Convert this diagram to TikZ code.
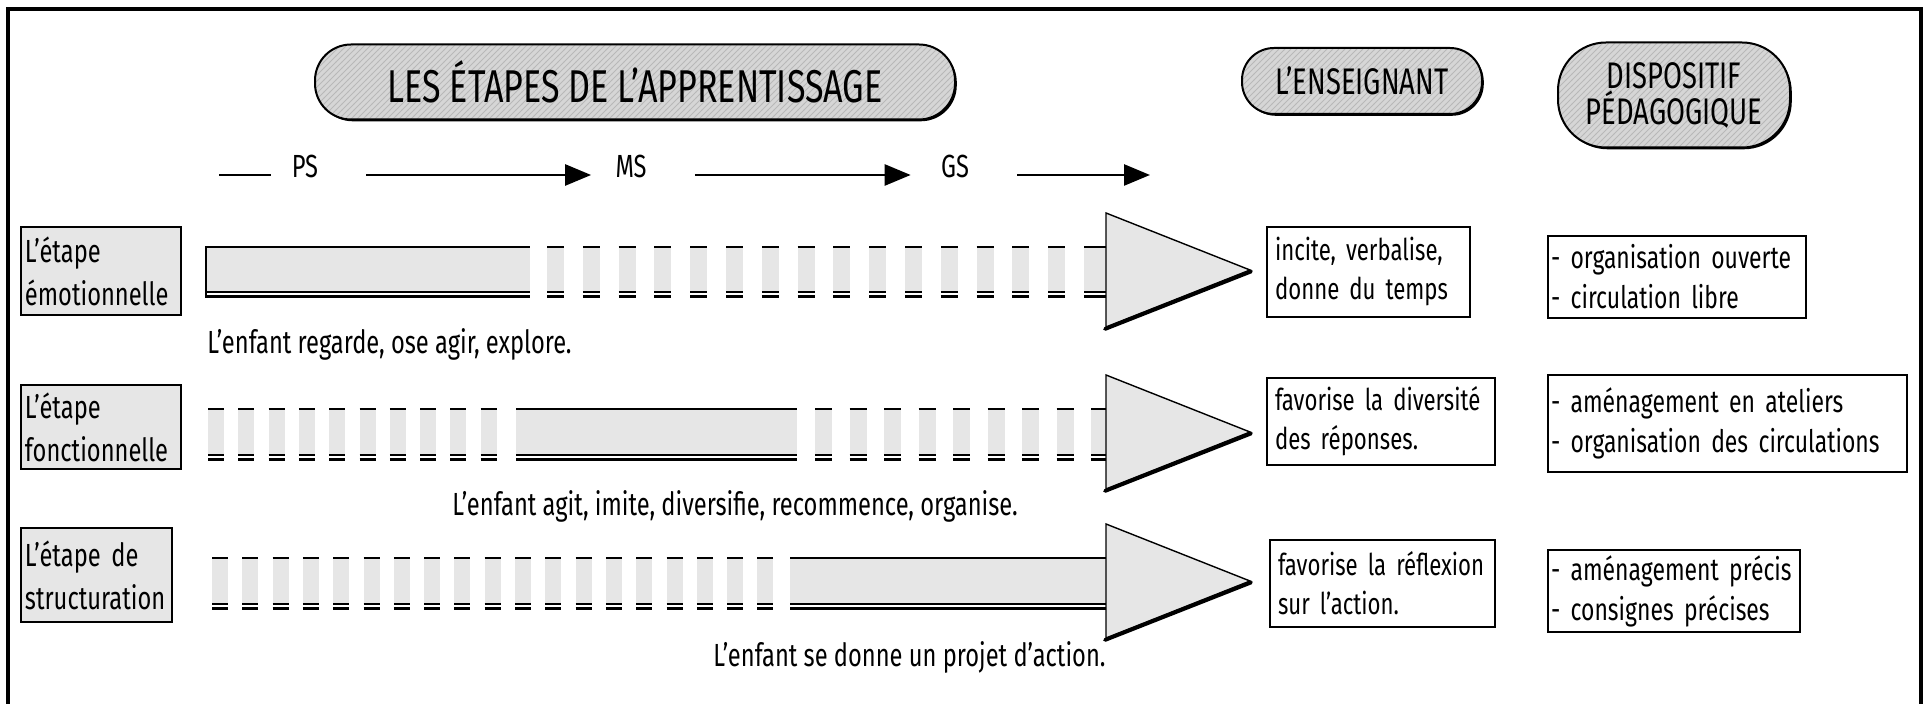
\documentclass[tikz,border=0pt]{standalone}
\usepackage{fontspec}
\setmainfont{Fira Sans}[FakeStretch=0.74]
\usetikzlibrary{arrows.meta,patterns,shadows}
\definecolor{pillfill}{HTML}{D6D6D6}
\definecolor{pillline}{HTML}{B8B8B8}
\definecolor{texfill}{HTML}{E6E6E6}
\tikzset{
  edge/.style={line width=0.6pt},
  shadowline/.style={line width=1.3pt},
  pill/.style={draw, line width=1pt, inner sep=0pt,
    drop shadow={shadow xshift=0.9pt, shadow yshift=-0.9pt, fill=black, opacity=1},
    preaction={fill=pillfill}, pattern=north east lines, pattern color=pillline},
  labbox/.style={draw, line width=1.3pt, fill=texfill, align=left, inner xsep=2pt,
    inner ysep=0pt, font=\fontsize{16}{21.5}\selectfont},
  tbox/.style={draw, line width=1.2pt, fill=white, align=left, inner xsep=4pt,
    inner ysep=0pt, font=\fontsize{15}{19.5}\selectfont},
  dbox/.style={draw, line width=1.2pt, fill=white, align=left, inner xsep=1.5pt,
    inner ysep=0pt, font=\fontsize{15.5}{20}\selectfont},
  rowtxt/.style={inner sep=0pt, anchor=west, font=\fontsize{16}{19}\selectfont},
  tllab/.style={inner sep=0pt, anchor=base, font=\fontsize{16}{19}\selectfont},
  tlarrow/.style={line width=1.3pt, -{Triangle[length=13pt,width=10.5pt]}},
  tlline/.style={line width=1.3pt},
  head/.style={draw, line width=0.7pt, fill=texfill, line join=miter},
  headshadow/.style={line width=1.9pt, line cap=round},
}
\newcommand{\barseg}[4]{%
  \fill[texfill] (#1,#3) rectangle (#2,#4);
  \draw[edge] (#1,#3) -- (#2,#3);
  \draw[edge] (#1,#4) -- (#2,#4);
  \draw[shadowline] (#1,#4+4.5) -- (#2,#4+4.5);
}
\begin{document}
\begin{tikzpicture}[x=0.5pt,y=-0.5pt]
\useasboundingbox (0,0) rectangle (1928,704);
% frame
\draw[line width=2pt] (8,704) -- (8,9) -- (1921,9) -- (1921,704);

% header pills
\node[pill, minimum width=320pt, minimum height=37.5pt, rounded corners=18pt,
  font=\fontsize{23}{26}\selectfont] (title) at (635,82) {LES ÉTAPES DE L’APPRENTISSAGE};
\node[pill, minimum width=120pt, minimum height=33pt, rounded corners=16pt,
  font=\fontsize{18.5}{21}\selectfont] (ens) at (1362,81) {L’ENSEIGNANT};
\node[pill, minimum width=116pt, minimum height=52.5pt, rounded corners=24pt,
  align=center, font=\fontsize{18.5}{18}\selectfont] (disp) at (1674,95) {DISPOSITIF\\PÉDAGOGIQUE};

% timeline
\coordinate (tl0) at (219,175);
\coordinate (tlend) at (1150,175);
\node[tllab] (ps) at (305,178) {PS};
\node[tllab] (ms) at (631,178) {MS};
\node[tllab] (gs) at (955,178) {GS};
\draw[tlline, shorten >=10.5pt] (tl0) -- ([yshift=1.5pt]ps.base west);
\draw[tlarrow, shorten <=24pt, shorten >=12pt] ([yshift=1.5pt]ps.base east) -- ([yshift=1.5pt]ms.base west);
\draw[tlarrow, shorten <=24pt, shorten >=15pt] ([yshift=1.5pt]ms.base east) -- ([yshift=1.5pt]gs.base west);
\draw[tlarrow, shorten <=24pt] ([yshift=1.5pt]gs.base east) -- (tlend);

% row labels
\node[labbox, text width=76pt, minimum height=44pt] (lab1) at (101,271) {L’étape\\émotionnelle};
\node[labbox, text width=76pt, minimum height=42pt] (lab2) at (101,427) {L’étape\\fonctionnelle};
\node[labbox, text width=71.5pt, minimum height=47pt] (lab3) at (96.5,575) {L’étape de\\structuration};

% ---- row 1 bar
\barseg{205}{530}{247}{292}
\draw[line width=1.3pt] (206,247) -- (206,297);
\foreach \i in {0,...,14}{
  \pgfmathsetmacro\xa{547+35.8*\i}
  \barseg{\xa}{\xa+17}{247}{292}
}
\barseg{1084}{1106}{247}{292}
\draw[head] (1106,213) -- (1250,270) -- (1106,327) -- cycle;
\draw[headshadow] (1105,329) -- (1251,271.5);

% ---- row 2 bar
\foreach \i in {0,...,9}{
  \pgfmathsetmacro\xa{208+30.3*\i}
  \barseg{\xa}{\xa+16}{409}{455}
}
\barseg{516}{797}{409}{455}
\foreach \i in {0,...,7}{
  \pgfmathsetmacro\xa{815+34.5*\i}
  \barseg{\xa}{\xa+17}{409}{455}
}
\barseg{1091}{1106}{409}{455}
\draw[head] (1106,375) -- (1250,432) -- (1106,489) -- cycle;
\draw[headshadow] (1105,491) -- (1251,433.5);

% ---- row 3 bar
\foreach \i in {0,...,18}{
  \pgfmathsetmacro\xa{212+30.3*\i}
  \barseg{\xa}{\xa+16}{558}{604}
}
\barseg{790}{1106}{558}{604}
\draw[head] (1106,524) -- (1250,581) -- (1106,638) -- cycle;
\draw[headshadow] (1105,640) -- (1251,582.5);

% row texts
\node[rowtxt] (txt1) at (207,344) {L’enfant regarde, ose agir, explore.};
\node[rowtxt] (txt2) at (452,506) {L’enfant agit, imite, diversifie, recommence, organise.};
\node[rowtxt] (txt3) at (713,657) {L’enfant se donne un projet d’action.};

% teacher boxes
\node[tbox, text width=93.5pt, minimum height=45pt] (ens1) at (1368.5,272) {incite, verbalise,\\donne du temps};
\node[tbox, text width=106pt, minimum height=43.5pt] (ens2) at (1381,421.5) {favorise la diversité\\des réponses.};
\node[tbox, text width=104.5pt, minimum height=43.5pt] (ens3) at (1382.5,583.5) {favorise la réflexion\\sur l’action.};

% dispositif boxes
\node[dbox, text width=126pt, minimum height=41pt] (dis1) at (1677,277) {- organisation ouverte\\- circulation libre};
\node[dbox, text width=176.5pt, minimum height=48.5pt] (dis2) at (1727.5,423.5) {- aménagement en ateliers\\- organisation des circulations};
\node[dbox, text width=123pt, minimum height=41pt] (dis3) at (1674,591) {- aménagement précis\\- consignes précises};
\end{tikzpicture}
\end{document}
